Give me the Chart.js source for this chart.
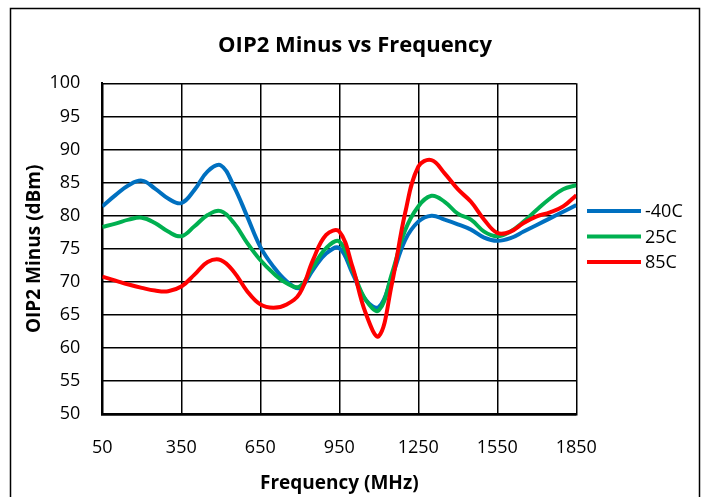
<!DOCTYPE html>
<html lang="en">
  <head>
    <meta charset="UTF-8" />
    <title>OIP2 Minus vs Frequency</title>
    <style>
      html,
      body {
        margin: 0;
        padding: 0;
        background: #fff;
      }
      canvas {
        display: block;
      }
    </style>
  </head>
  <body>
    <canvas id="myChart" width="709" height="497"></canvas>

    <script src="https://cdn.jsdelivr.net/npm/chart.js@4.4.1/dist/chart.umd.min.js"></script>
    <script>
      // frequency points (MHz)
      var freqs = [
        50, 100, 150, 200, 250, 300, 350, 400, 450, 500, 550, 600, 650, 700,
        750, 800, 850, 900, 950, 1000, 1050, 1100, 1150, 1200, 1250, 1300,
        1350, 1400, 1450, 1500, 1550, 1600, 1650, 1700, 1750, 1800, 1850,
      ];

      // OIP2 minus (dBm)
      var minus40 = [
        81.4, 83.1, 84.6, 85.3, 84.1, 82.6, 81.9, 83.9, 86.7, 87.6, 84.4, 79.9,
        75.3, 72.3, 70.1, 69.1, 71.8, 74.3, 75.1, 71.3, 67.3, 66.2, 70.8, 76.3,
        79.1, 80.0, 79.4, 78.7, 77.9, 76.7, 76.2, 76.6, 77.6, 78.6, 79.6, 80.6,
        81.6,
      ];
      var plus25 = [
        78.3, 78.8, 79.4, 79.7, 78.9, 77.6, 76.9, 78.4, 80.1, 80.7, 78.9, 75.9,
        73.3, 71.3, 69.8, 69.3, 72.3, 75.1, 76.1, 71.8, 67.3, 65.7, 71.3, 77.8,
        81.4, 83.0, 82.1, 80.3, 79.4, 77.6, 76.9, 77.6, 79.1, 80.9, 82.6, 84.0,
        84.6,
      ];
      var plus85 = [
        70.8, 70.2, 69.6, 69.1, 68.7, 68.6, 69.3, 71.1, 73.0, 73.3, 71.5, 68.6,
        66.6, 66.1, 66.6, 68.3, 73.3, 77.1, 77.6, 72.3, 65.3, 61.8, 69.8, 80.4,
        87.4, 88.4, 86.4, 84.0, 82.1, 79.4, 77.4, 77.6, 78.9, 79.9, 80.5, 81.4,
        83.1,
      ];

      var seriesNames = ["-40C", "25C", "85C"];
      var seriesColors = ["#0070C0", "#00B050", "#FF0000"];
      var chartTitle = "OIP2 Minus vs Frequency";

      var FONT = "'Open Sans', sans-serif";

      function toPoints(values) {
        var pts = [];
        for (var i = 0; i < freqs.length; i++) {
          pts.push({ x: freqs[i], y: values[i] });
        }
        return pts;
      }

      // outer frame, title and legend
      var extras = {
        id: "extras",
        afterDraw: function (chart) {
          var ctx = chart.ctx;
          ctx.save();
          ctx.strokeStyle = "#000";
          ctx.lineWidth = 1.5;
          ctx.strokeRect(10.5, 8.5, 689, 600);

          ctx.fillStyle = "#000";
          ctx.textAlign = "center";
          ctx.textBaseline = "middle";
          ctx.font = "bold 22px " + FONT;
          ctx.fillText(chartTitle, 355, 46);

          ctx.font = "18px " + FONT;
          ctx.textAlign = "left";
          ctx.lineWidth = 4;
          ctx.lineCap = "butt";
          for (var i = 0; i < seriesNames.length; i++) {
            var y = 211 + i * 25.5;
            ctx.strokeStyle = seriesColors[i];
            ctx.beginPath();
            ctx.moveTo(587, y);
            ctx.lineTo(641, y);
            ctx.stroke();
            ctx.fillStyle = "#000";
            ctx.fillText(seriesNames[i], 645, y + 1);
          }
          ctx.restore();
        },
      };

      var series = [minus40, plus25, plus85];
      var datasets = [];
      for (var i = 0; i < series.length; i++) {
        datasets.push({
          label: seriesNames[i],
          data: toPoints(series[i]),
          borderColor: seriesColors[i],
          backgroundColor: seriesColors[i],
          borderWidth: 4,
          pointRadius: 0,
          tension: 0.4,
          order: 3 - i,
        });
      }

      var ctx = document.getElementById("myChart").getContext("2d");
      var myChart = new Chart(ctx, {
        type: "line",
        data: { datasets: datasets },
        plugins: [extras],
        options: {
          responsive: false,
          animation: false,
          layout: { padding: { left: 0, right: 132.7, top: 83.3, bottom: 0 } },
          plugins: {
            legend: { display: false },
            tooltip: { enabled: false },
            title: { display: false },
          },
          scales: {
            x: {
              type: "linear",
              min: 50,
              max: 1850,
              ticks: {
                stepSize: 300,
                color: "#000",
                padding: 23,
                font: { family: FONT, size: 18 },
                maxRotation: 0,
                callback: function (v) {
                  return String(v);
                },
              },
              grid: {
                color: "#000",
                lineWidth: 1.5,
                drawTicks: false,
              },
              border: { color: "#000", width: 2.5 },
              title: {
                display: true,
                text: "Frequency (MHz)",
                color: "#000",
                font: { family: FONT, size: 19, weight: "bold" },
                padding: { top: 0, bottom: 1.6 },
              },
              afterFit: function (scale) {
                scale.height = 82.7;
              },
            },
            y: {
              min: 50,
              max: 100,
              ticks: {
                stepSize: 5,
                color: "#000",
                padding: 22,
                font: { family: FONT, size: 18 },
              },
              grid: {
                color: "#000",
                lineWidth: 1.5,
                drawTicks: false,
              },
              border: { color: "#000", width: 2 },
              title: {
                display: true,
                text: "OIP2 Minus (dBm)",
                color: "#000",
                font: { family: FONT, size: 19, weight: "bold" },
                padding: { top: 23, bottom: 0 },
              },
              afterFit: function (scale) {
                scale.width = 102.3;
              },
            },
          },
        },
      });
    </script>
  </body>
</html>
